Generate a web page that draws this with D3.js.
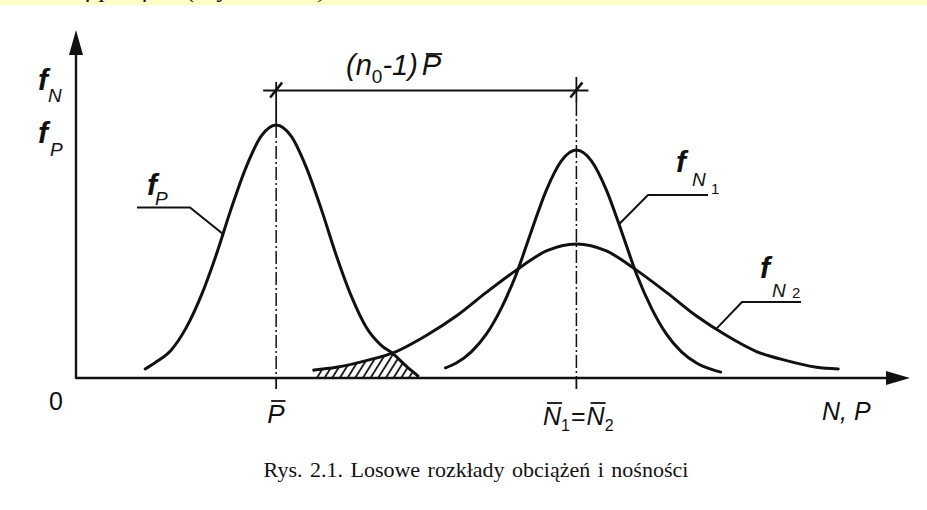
<!DOCTYPE html>
<html><head><meta charset="utf-8">
<script src="https://cdn.jsdelivr.net/npm/d3@7"></script>
<style>
html,body{margin:0;padding:0;background:#fff;}
svg{display:block;}
</style></head><body>
<svg id="chart" width="927" height="510"></svg>
<script>
// Load density f_P (x = value, y = density height, drawing units)
const loadX = [8.3, 9.6, 11.4, 13.2, 15.0, 16.8, 18.6, 20.4, 22.2, 24.0, 25.8, 27.6, 29.4, 31.2, 33.0, 34.8, 36.6, 37.9, 39.6, 41.0];
const loadY = [2.6, 4.6, 8.0, 14.4, 23.6, 35.3, 48.6, 60.6, 69.5, 72.7, 69.5, 60.6, 48.6, 35.3, 23.6, 14.6, 9.4, 7.2, 3.4, 0.6];
// Capacity density f_N1 (narrow)
const cap1X = [44.3, 45.6, 47.4, 49.2, 51.0, 52.8, 54.6, 56.4, 58.2, 60.0, 61.8, 63.6, 65.4, 67.2, 69.0, 70.8, 72.6, 74.4, 77.3];
const cap1Y = [2.9, 4.3, 7.5, 12.6, 20.1, 29.9, 42.2, 54.0, 62.4, 65.5, 62.4, 54.0, 42.2, 29.9, 20.1, 12.6, 7.5, 4.3, 1.7];
// Capacity density f_N2 (wide)
const cap2X = [28.5, 31.2, 34.8, 38.4, 42.0, 45.6, 49.2, 52.8, 56.4, 60.0, 63.6, 67.2, 70.8, 74.4, 78.0, 81.6, 85.2, 88.8, 91.4];
const cap2Y = [2.3, 3.1, 5.0, 7.6, 12.2, 17.8, 24.6, 31.0, 36.5, 38.5, 36.5, 31.0, 24.6, 17.8, 12.2, 7.6, 5.0, 3.1, 2.6];
// Mean values marked on the horizontal axis
const meanLoad = 24;
const meanCapacity = 60;
const captionText = "Rys. 2.1. Losowe rozkłady obciążeń i nośności";

const svg = d3.select("#chart");
const x = d3.scaleLinear().domain([0, 100]).range([76, 910]);
const y = d3.scaleLinear().domain([0, 100]).range([378, 30]);
const INK = "#111";
const SANS = "'Liberation Sans', Arial, sans-serif";
const SERIF = "'Liberation Serif', 'Times New Roman', serif";

const pts = (xs, ys) => xs.map((v, i) => [v, ys[i]]);
const loadPts = pts(loadX, loadY);
const cap1Pts = pts(cap1X, cap1Y);
const cap2Pts = pts(cap2X, cap2Y);

const line = d3.line().x(d => x(d[0])).y(d => y(d[1])).curve(d3.curveMonotoneX);
const area = d3.area().x(d => x(d[0])).y0(y(0)).y1(d => y(d[1])).curve(d3.curveMonotoneX);

const defs = svg.append("defs");
defs.append("pattern").attr("id", "hatch")
  .attr("patternUnits", "userSpaceOnUse").attr("width", 6.5).attr("height", 10)
  .attr("patternTransform", "rotate(32)")
  .append("line").attr("x1", 1).attr("y1", -2).attr("x2", 1).attr("y2", 12)
  .attr("stroke", INK).attr("stroke-width", 1.8);
defs.append("clipPath").attr("id", "underLoad")
  .append("path").attr("d", area(loadPts));
defs.append("clipPath").attr("id", "band")
  .append("rect").attr("x", 0).attr("y", 0).attr("width", 927).attr("height", 5);

// page header strip with the tail of the preceding formula
svg.append("rect").attr("x", 0).attr("y", 0).attr("width", 927).attr("height", 5).attr("fill", "#FFFFC8");
const bandG = svg.append("g").attr("clip-path", "url(#band)");
[["f", 86], ["p", 100], ["f", 143], ["N", 157], ["(", 187], ["y", 219], [")", 319]].forEach(([t, px]) => {
  bandG.append("text").attr("x", px).attr("y", -3).text(t)
    .attr("font-family", SERIF).attr("font-style", "italic").attr("font-size", 26).attr("fill", INK);
});

// failure zone: overlap of the two densities
svg.append("path").attr("d", area(cap2Pts))
  .attr("fill", "url(#hatch)").attr("clip-path", "url(#underLoad)");

// density curves
const curveG = svg.append("g").attr("fill", "none").attr("stroke", INK).attr("stroke-width", 3).attr("stroke-linecap", "round");
const pLoad = curveG.append("path").attr("d", line(loadPts));
const pCap1 = curveG.append("path").attr("d", line(cap1Pts));
const pCap2 = curveG.append("path").attr("d", line(cap2Pts));

// axes with arrowheads
const ax = svg.append("g");
ax.append("line").attr("x1", x(0)).attr("y1", y(0)).attr("x2", x(100) - 20).attr("y2", y(0))
  .attr("stroke", INK).attr("stroke-width", 2.4);
ax.append("line").attr("x1", x(0)).attr("y1", y(0) + 1).attr("x2", x(0)).attr("y2", y(100) + 20)
  .attr("stroke", INK).attr("stroke-width", 2.4);
ax.append("path").attr("fill", INK)
  .attr("d", `M${x(100)},${y(0)} L${x(100) - 24},${y(0) - 7} L${x(100) - 24},${y(0) + 7} Z`);
ax.append("path").attr("fill", INK)
  .attr("d", `M${x(0)},${y(100)} L${x(0) - 7},${y(100) + 25} L${x(0) + 7},${y(100) + 25} Z`);

// centre lines at the means
const peakLoad = d3.max(loadY);
const dashDot = "13 3 2 3";
const vl = (xv, y1, y2, dash, w) => svg.append("line").attr("x1", x(xv)).attr("x2", x(xv))
  .attr("y1", y1).attr("y2", y2).attr("stroke", INK).attr("stroke-width", w)
  .attr("stroke-dasharray", dash);
vl(meanLoad, 82, y(peakLoad), null, 1.8);
vl(meanLoad, y(peakLoad), y(0), dashDot, 1.5);
vl(meanLoad, y(0), y(0) + 11, null, 1.8);
vl(meanCapacity, 77, 103, null, 1.8);
vl(meanCapacity, 103, y(0), dashDot, 1.5);
vl(meanCapacity, y(0), y(0) + 11, null, 1.8);

// dimension line between the means
const dimY = 90.5;
svg.append("line").attr("x1", x(meanLoad) - 13).attr("x2", x(meanCapacity) + 12)
  .attr("y1", dimY).attr("y2", dimY).attr("stroke", INK).attr("stroke-width", 1.8);
[meanLoad, meanCapacity].forEach(m => {
  svg.append("line").attr("x1", x(m) - 6).attr("y1", dimY + 7).attr("x2", x(m) + 6).attr("y2", dimY - 8)
    .attr("stroke", INK).attr("stroke-width", 2.6);
});

// helpers for labels
function txt(t, px, py, size, opts = {}) {
  return svg.append("text").attr("x", px).attr("y", py).text(t)
    .attr("font-family", opts.family || SANS).attr("font-size", size)
    .attr("font-style", opts.italic === false ? "normal" : "italic")
    .attr("font-weight", opts.weight || "normal")
    .attr("text-anchor", opts.anchor || "start").attr("fill", INK);
}
// overbar above character idx of a text element
function barChar(textSel, idx, top) {
  const e = textSel.node().getExtentOfChar(idx);
  svg.append("line").attr("x1", e.x + 4).attr("x2", e.x + e.width + 1)
    .attr("y1", top).attr("y2", top).attr("stroke", INK).attr("stroke-width", 1.8);
}
function pointAtX(pathSel, px) {
  const node = pathSel.node(), L = node.getTotalLength();
  let lo = 0, hi = L;
  for (let i = 0; i < 40; i++) {
    const mid = (lo + hi) / 2;
    if (node.getPointAtLength(mid).x < px) lo = mid; else hi = mid;
  }
  return node.getPointAtLength((lo + hi) / 2);
}

// dimension label (n0 - 1) P-bar
const dimT = svg.append("text").attr("x", 346).attr("y", 75).attr("font-family", SANS).attr("font-size", 29).attr("fill", INK);
dimT.append("tspan").attr("font-style", "italic").text("(");
dimT.append("tspan").attr("font-style", "italic").text("n");
dimT.append("tspan").attr("font-size", 19).attr("dy", 8).text("0");
dimT.append("tspan").attr("dy", -8).attr("font-style", "italic").text("-1)");
dimT.append("tspan").attr("font-style", "italic").attr("dx", 4).text("P");
barChar(dimT, 6, 54);

// vertical axis labels
txt("f", 38, 90, 30, { weight: "bold" });
txt("N", 48, 102, 19);
txt("f", 38, 143, 30, { weight: "bold" });
txt("P", 50, 156, 19);

// curve labels with leader lines
const leader = (pts2) => svg.append("polyline").attr("points", pts2.map(p => p.join(",")).join(" "))
  .attr("fill", "none").attr("stroke", INK).attr("stroke-width", 2);
const aLoad = pointAtX(pLoad, 223);
leader([[137, 207.5], [190, 207.5], [aLoad.x, aLoad.y]]);
txt("f", 147, 195, 30, { weight: "bold" });
txt("P", 155, 205, 19);

const aCap1 = pointAtX(pCap1, 619);
leader([[708, 195], [648, 195], [aCap1.x, aCap1.y]]);
txt("f", 676, 172, 30, { weight: "bold" });
txt("N", 692, 186, 19);
txt("1", 711, 194, 15, { italic: false });

const aCap2 = pointAtX(pCap2, 716);
leader([[801, 302], [742, 302], [aCap2.x, aCap2.y]]);
txt("f", 760, 278, 30, { weight: "bold" });
txt("N", 772, 297, 19);
txt("2", 792, 298, 15, { italic: false });

// horizontal axis labels
txt("0", 56, 410, 25, { italic: false, anchor: "middle" });
const pBar = txt("P", x(meanLoad) - 9, 423, 26);
barChar(pBar, 0, 401);
const nEq = svg.append("text").attr("x", 543).attr("y", 425).attr("font-family", SANS)
  .attr("font-size", 25).attr("fill", INK);
nEq.append("tspan").attr("font-style", "italic").text("N");
nEq.append("tspan").attr("font-size", 16).attr("dy", 6).text("1");
nEq.append("tspan").attr("dy", -6).attr("dx", 1).text("=");
nEq.append("tspan").attr("font-style", "italic").attr("dx", 1).text("N");
nEq.append("tspan").attr("font-size", 16).attr("dy", 6).text("2");
barChar(nEq, 0, 403);
barChar(nEq, 3, 403);
txt("N, P", 822, 420, 25);

// caption
svg.append("text").attr("x", 476).attr("y", 477).attr("text-anchor", "middle")
  .attr("font-family", SERIF).attr("font-size", 22).attr("word-spacing", 2).attr("fill", INK)
  .text(captionText);
</script>
</body></html>
